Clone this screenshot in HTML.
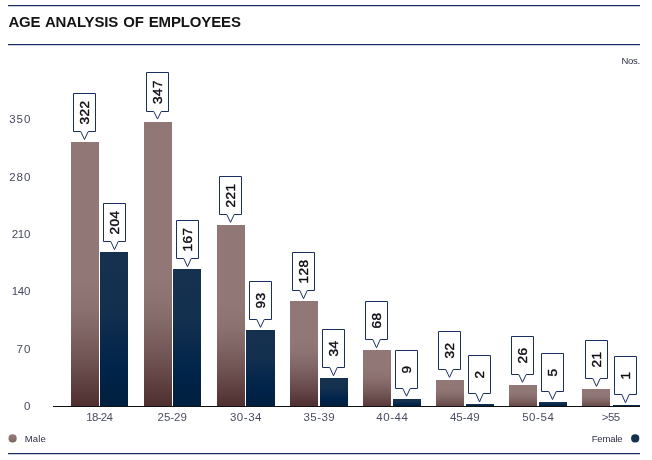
<!DOCTYPE html>
<html lang="en">
<head>
<meta charset="utf-8">
<title>Age Analysis of Employees</title>
<style>
html,body{margin:0;padding:0;background:#fff;}
body{width:652px;height:460px;position:relative;overflow:hidden;font-family:"Liberation Sans",sans-serif;color:#2e3146;}
.rule{position:absolute;left:8px;width:632px;height:1px;background:#172d62;box-shadow:0 1px 0 rgba(23,45,98,0.22);}
h1{position:absolute;left:8.4px;top:12.4px;margin:0;font-size:15px;line-height:20px;font-weight:bold;color:#141414;letter-spacing:-0.15px;word-spacing:1px;white-space:nowrap;}
.unit{position:absolute;right:12.2px;top:54.6px;font-size:9.5px;line-height:12px;letter-spacing:-0.3px;color:#2e3146;}
.yl{position:absolute;left:0;width:31.4px;text-align:right;font-size:11.5px;line-height:12px;letter-spacing:1px;color:#464a5e;}
.xl{position:absolute;top:411px;width:60px;text-align:center;font-size:11.5px;line-height:12px;color:#4a4d60;white-space:nowrap;}
.axis{position:absolute;left:53px;top:406px;width:587px;height:1px;background:#111;}
.bar{position:absolute;}
.m{background:linear-gradient(to bottom,#927978 0%,#917877 48%,#513131 100%);}
.f{background:linear-gradient(to bottom,#15314f 0%,#14304f 35%,#00244a 75%,#011f3e 100%);}
.lg{position:absolute;top:432.6px;font-size:9.5px;line-height:12px;letter-spacing:0.2px;color:#2c2f44;}
.dot{position:absolute;top:434.5px;width:8px;height:8px;border-radius:50%;}
svg{position:absolute;left:0;top:0;}
svg text{font-family:"Liberation Sans",sans-serif;font-weight:normal;font-size:13.6px;fill:#0c0c14;stroke:#0c0c14;stroke-width:0.4px;letter-spacing:0.5px;}
</style>
</head>
<body>
<div class="rule" style="top:5px"></div>
<h1>AGE ANALYSIS OF EMPLOYEES</h1>
<div class="rule" style="top:44px"></div>
<div class="unit">Nos.</div>
<div class="yl" style="top:400.2px;letter-spacing:1.0px;width:31.40px">0</div>
<div class="yl" style="top:342.8px;letter-spacing:1.0px;width:31.40px">70</div>
<div class="yl" style="top:285.4px;letter-spacing:-0.25px;width:30.15px">140</div>
<div class="yl" style="top:228.0px;letter-spacing:-0.25px;width:30.15px">210</div>
<div class="yl" style="top:170.6px;letter-spacing:1.0px;width:31.40px">280</div>
<div class="yl" style="top:113.2px;letter-spacing:1.0px;width:31.40px">350</div>
<div class="bar m" style="left:71.05px;top:142.0px;width:27.75px;height:264.0px;background:linear-gradient(to bottom,#917877 0.0%,#917877 52.1%,#8c7271 61.7%,#816666 71.3%,#735656 80.8%,#614343 90.4%,#4f2f2f 100.0%)"></div>
<div class="bar f" style="left:100.20px;top:252.0px;width:27.75px;height:154.0px"></div>
<div class="xl" style="left:69.25px;letter-spacing:-0.7px">18-24</div>
<div class="bar m" style="left:144.05px;top:121.5px;width:27.75px;height:284.5px;background:linear-gradient(to bottom,#917877 0.0%,#917877 54.0%,#8c7271 63.2%,#816666 72.4%,#735656 81.6%,#614343 90.8%,#4f2f2f 100.0%)"></div>
<div class="bar f" style="left:173.40px;top:269.1px;width:27.75px;height:136.9px"></div>
<div class="xl" style="left:142.24px;letter-spacing:-0.03px">25-29</div>
<div class="bar m" style="left:217.05px;top:224.8px;width:27.75px;height:181.2px;background:linear-gradient(to bottom,#917877 0.0%,#917877 44.2%,#8c7271 55.4%,#816666 66.5%,#735656 77.7%,#614343 88.8%,#4f2f2f 100.0%)"></div>
<div class="bar f" style="left:246.30px;top:329.7px;width:28.6px;height:76.3px"></div>
<div class="xl" style="left:215.97px;letter-spacing:0.55px">30-34</div>
<div class="bar m" style="left:290.05px;top:301.0px;width:27.75px;height:105.0px;background:linear-gradient(to bottom,#917877 0.0%,#917877 37.0%,#8c7271 49.6%,#816666 62.2%,#735656 74.8%,#614343 87.4%,#4f2f2f 100.0%)"></div>
<div class="bar f" style="left:319.80px;top:378.1px;width:27.75px;height:27.9px"></div>
<div class="xl" style="left:289.33px;letter-spacing:0.45px">35-39</div>
<div class="bar m" style="left:363.05px;top:350.2px;width:27.75px;height:55.8px;background:linear-gradient(to bottom,#917877 0.0%,#917877 32.3%,#8d7372 45.8%,#846968 59.4%,#775c5b 72.9%,#694b4b 86.5%,#593a3a 100.0%)"></div>
<div class="bar f" style="left:393.00px;top:398.6px;width:27.9px;height:7.4px"></div>
<div class="xl" style="left:362.38px;letter-spacing:0.55px">40-44</div>
<div class="bar m" style="left:436.05px;top:379.8px;width:27.75px;height:26.2px;background:linear-gradient(to bottom,#917877 0.0%,#917877 29.5%,#8d7473 43.6%,#866c6c 57.7%,#7d6261 71.8%,#715555 85.9%,#654847 100.0%)"></div>
<div class="bar f" style="left:466.20px;top:404.4px;width:27.9px;height:1.6px"></div>
<div class="xl" style="left:434.85px;letter-spacing:0.1px">45-49</div>
<div class="bar m" style="left:509.05px;top:384.7px;width:27.75px;height:21.3px;background:linear-gradient(to bottom,#917877 0.0%,#917877 29.0%,#8e7473 43.2%,#876d6c 57.4%,#7e6362 71.6%,#735756 85.8%,#674a49 100.0%)"></div>
<div class="bar f" style="left:539.40px;top:401.9px;width:27.75px;height:4.1px"></div>
<div class="xl" style="left:508.27px;letter-spacing:0.55px">50-54</div>
<div class="bar m" style="left:582.05px;top:388.8px;width:27.75px;height:17.2px;background:linear-gradient(to bottom,#917877 0.0%,#917877 28.6%,#8e7474 42.9%,#876d6d 57.2%,#7f6463 71.5%,#745858 85.7%,#694c4b 100.0%)"></div>
<div class="bar f" style="left:612.60px;top:405.2px;width:27.75px;height:0.8px"></div>
<div class="xl" style="left:580.70px;letter-spacing:-0.6px">>55</div>
<div class="axis"></div>
<svg width="652" height="460" viewBox="0 0 652 460">
<path d="M73.50 93.50H95.50V131.50H88.20L84.50 139.56L80.80 131.50H73.50Z" fill="#fff" stroke="#1c2f62" stroke-width="1"/><text x="89.40" y="112.50" text-anchor="middle" transform="rotate(-90 89.40 112.50)">322</text>
<path d="M103.50 203.50H125.50V241.50H118.20L114.50 249.60L110.80 241.50H103.50Z" fill="#fff" stroke="#1c2f62" stroke-width="1"/><text x="119.40" y="222.50" text-anchor="middle" transform="rotate(-90 119.40 222.50)">204</text>
<path d="M146.50 72.50H168.50V111.50H161.20L157.50 119.06L153.80 111.50H146.50Z" fill="#fff" stroke="#1c2f62" stroke-width="1"/><text x="162.40" y="92.00" text-anchor="middle" transform="rotate(-90 162.40 92.00)">347</text>
<path d="M176.50 220.50H198.50V258.50H191.20L187.50 266.66L183.80 258.50H176.50Z" fill="#fff" stroke="#1c2f62" stroke-width="1"/><text x="192.40" y="239.50" text-anchor="middle" transform="rotate(-90 192.40 239.50)">167</text>
<path d="M219.50 176.50H241.50V214.50H234.20L230.50 222.38L226.80 214.50H219.50Z" fill="#fff" stroke="#1c2f62" stroke-width="1"/><text x="235.40" y="195.50" text-anchor="middle" transform="rotate(-90 235.40 195.50)">221</text>
<path d="M249.50 281.50H271.50V319.50H264.20L260.50 327.34L256.80 319.50H249.50Z" fill="#fff" stroke="#1c2f62" stroke-width="1"/><text x="265.40" y="300.50" text-anchor="middle" transform="rotate(-90 265.40 300.50)">93</text>
<path d="M292.50 252.50H314.50V290.50H307.20L303.50 298.64L299.80 290.50H292.50Z" fill="#fff" stroke="#1c2f62" stroke-width="1"/><text x="308.40" y="271.50" text-anchor="middle" transform="rotate(-90 308.40 271.50)">128</text>
<path d="M322.50 329.50H344.50V367.50H337.20L333.50 375.72L329.80 367.50H322.50Z" fill="#fff" stroke="#1c2f62" stroke-width="1"/><text x="338.40" y="348.50" text-anchor="middle" transform="rotate(-90 338.40 348.50)">34</text>
<path d="M365.50 301.50H387.50V339.50H380.20L376.50 347.84L372.80 339.50H365.50Z" fill="#fff" stroke="#1c2f62" stroke-width="1"/><text x="381.40" y="320.50" text-anchor="middle" transform="rotate(-90 381.40 320.50)">68</text>
<path d="M395.50 350.50H417.50V388.50H410.20L406.50 396.22L402.80 388.50H395.50Z" fill="#fff" stroke="#1c2f62" stroke-width="1"/><text x="411.40" y="369.50" text-anchor="middle" transform="rotate(-90 411.40 369.50)">9</text>
<path d="M438.50 331.50H460.50V369.50H453.20L449.50 377.36L445.80 369.50H438.50Z" fill="#fff" stroke="#1c2f62" stroke-width="1"/><text x="454.40" y="350.50" text-anchor="middle" transform="rotate(-90 454.40 350.50)">32</text>
<path d="M468.50 355.50H490.50V393.50H483.20L479.50 401.96L475.80 393.50H468.50Z" fill="#fff" stroke="#1c2f62" stroke-width="1"/><text x="484.40" y="374.50" text-anchor="middle" transform="rotate(-90 484.40 374.50)">2</text>
<path d="M511.50 336.50H533.50V374.50H526.20L522.50 382.28L518.80 374.50H511.50Z" fill="#fff" stroke="#1c2f62" stroke-width="1"/><text x="527.40" y="355.50" text-anchor="middle" transform="rotate(-90 527.40 355.50)">26</text>
<path d="M541.50 353.50H563.50V391.50H556.20L552.50 399.50L548.80 391.50H541.50Z" fill="#fff" stroke="#1c2f62" stroke-width="1"/><text x="557.40" y="372.50" text-anchor="middle" transform="rotate(-90 557.40 372.50)">5</text>
<path d="M585.50 340.50H607.50V378.50H600.20L596.50 386.38L592.80 378.50H585.50Z" fill="#fff" stroke="#1c2f62" stroke-width="1"/><text x="601.40" y="359.50" text-anchor="middle" transform="rotate(-90 601.40 359.50)">21</text>
<path d="M614.50 356.50H636.50V394.50H629.20L625.50 402.78L621.80 394.50H614.50Z" fill="#fff" stroke="#1c2f62" stroke-width="1"/><text x="630.40" y="375.50" text-anchor="middle" transform="rotate(-90 630.40 375.50)">1</text>
</svg>
<svg width="652" height="460" viewBox="0 0 652 460">
<defs><linearGradient id="md" x1="0" y1="0" x2="0" y2="1"><stop offset="0" stop-color="#927a79"/><stop offset="0.55" stop-color="#8b7271"/><stop offset="1" stop-color="#7c6362"/></linearGradient></defs>
<circle cx="12.6" cy="438.4" r="4.1" fill="url(#md)"/>
<circle cx="635.2" cy="438.4" r="4.1" fill="#13304f"/>
</svg>
<div class="lg" style="left:24.7px">Male</div>
<div class="lg" style="right:29.5px;letter-spacing:-0.15px">Female</div>
<div class="rule" style="top:453px"></div>
</body>
</html>
